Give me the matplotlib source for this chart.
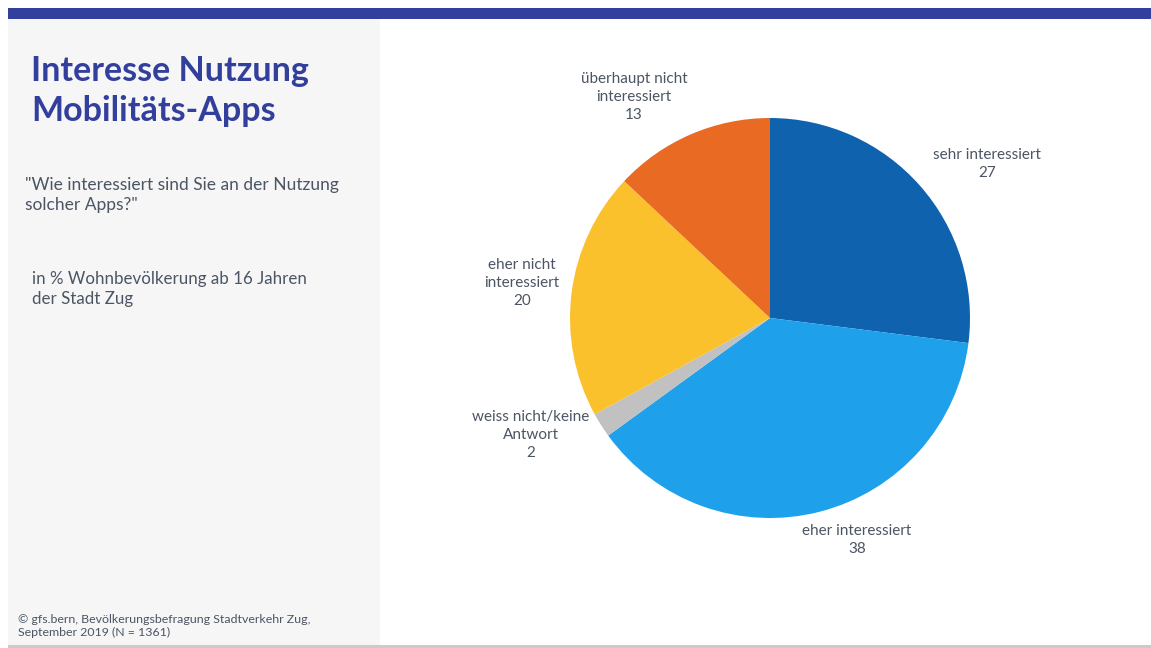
import matplotlib.pyplot as plt
from matplotlib.patches import Rectangle
import numpy as np

# answer categories, shares in percent
categories = ["sehr interessiert", "eher interessiert", "weiss nicht/keine\nAntwort",
              "eher nicht\ninteressiert", "überhaupt nicht\ninteressiert"]
shares = [27, 38, 2, 20, 13]
colors = ["#0e62ae", "#1ea0ea", "#c1c1c1", "#fbc12d", "#e86a23"]

# label anchors around the pie (unit radius)
label_pos = [(1.085, 0.77), (0.435, -1.11), (-1.195, -0.585), (-1.24, 0.175), (-0.68, 1.105)]

plt.rcParams['font.family'] = ['Lato', 'DejaVu Sans']

W, H = 1151, 648
fig = plt.figure(figsize=(W / 100, H / 100), dpi=100)
fig.patch.set_facecolor("white")

def px(x, y):
    return x / W, 1 - y / H

# side panel, top bar and bottom rule
fig.add_artist(Rectangle(px(8, 645), 372 / W, 626 / H, transform=fig.transFigure,
                         facecolor="#f6f6f6", edgecolor="none", zorder=0))
fig.add_artist(Rectangle(px(8, 18.5), (W - 8) / W, 10.5 / H, transform=fig.transFigure,
                         facecolor="#323f9c", edgecolor="none", zorder=1))
fig.add_artist(Rectangle(px(8, 648), (W - 8) / W, 3 / H, transform=fig.transFigure,
                         facecolor="#cbcbcb", edgecolor="none", zorder=1))

txt = "#4b5563"
fig.text(*px(31, 71), "Interesse Nutzung", fontsize=24.5, fontweight="bold",
         color="#323f9c", va="center")
fig.text(*px(31, 111), "Mobilitäts-Apps", fontsize=24.5, fontweight="bold",
         color="#323f9c", va="center")
fig.text(*px(25, 195), '"Wie interessiert sind Sie an der Nutzung\nsolcher Apps?"',
         fontsize=12.5, color=txt, va="center", linespacing=1.35)
fig.text(*px(32, 289), "in % Wohnbevölkerung ab 16 Jahren\nder Stadt Zug",
         fontsize=12.2, color=txt, va="center", linespacing=1.3)
fig.text(*px(18, 626), "© gfs.bern, Bevölkerungsbefragung Stadtverkehr Zug,\nSeptember 2019 (N = 1361)",
         fontsize=8.9, color=txt, va="center", linespacing=1.3)

ax = fig.add_axes([(770 - 200) / W, (H - 318 - 200) / H, 400 / W, 400 / H])
ax.pie(shares, colors=colors, startangle=90, counterclock=False,
       wedgeprops=dict(linewidth=0))
ax.set_xlim(-1, 1)
ax.set_ylim(-1, 1)
ax.set_aspect("equal")
ax.axis("off")

for cat, val, (lx, ly) in zip(categories, shares, label_pos):
    ax.text(lx, ly, f"{cat}\n{val}", ha="center", va="center", fontsize=11,
            color=txt, linespacing=1.36)

fig.savefig("out.png", dpi=100)
